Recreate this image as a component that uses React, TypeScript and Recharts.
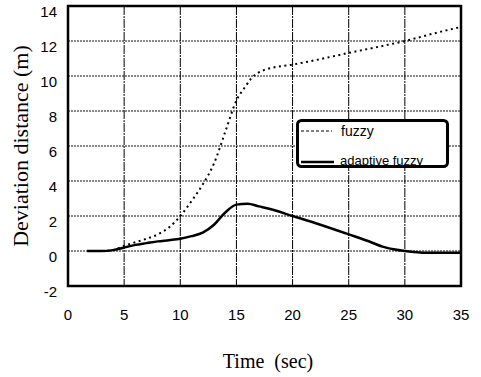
import {
  LineChart,
  Line,
  XAxis,
  YAxis,
  CartesianGrid,
  ReferenceArea,
  Legend,
  Label,
} from 'recharts';

// time (sec) / deviation (m) for the plain fuzzy controller
const fuzzyTime = [3, 4, 5, 6, 7, 8, 9, 10, 11, 12, 13, 14, 15, 15.8, 16.3, 17.5, 20, 22, 25, 27.5, 30, 33, 35];
const fuzzyDev = [0, 0.05, 0.3, 0.5, 0.7, 0.95, 1.35, 2.0, 2.85, 3.8, 5.0, 6.8, 8.6, 9.4, 9.85, 10.35, 10.65, 10.9, 11.32, 11.65, 12.0, 12.5, 12.8];

// same run with the adaptive fuzzy controller
const adaptiveTime = [1.7, 3, 4, 5, 6, 7, 8, 9, 10, 11, 12, 13, 14, 15, 16, 17, 18, 20, 22, 25, 27, 28, 29, 30, 32, 35];
const adaptiveDev = [0, 0, 0.05, 0.2, 0.35, 0.45, 0.55, 0.62, 0.7, 0.85, 1.05, 1.5, 2.2, 2.65, 2.7, 2.55, 2.4, 2.0, 1.6, 0.95, 0.5, 0.25, 0.1, 0, -0.1, -0.1];

const xTicks = [0, 5, 10, 15, 20, 25, 30, 35];
const yTicks = [-2, 0, 2, 4, 6, 8, 10, 12, 14];

const fuzzyData = fuzzyTime.map((t, i) => ({ t, dev: fuzzyDev[i] }));
const adaptiveData = adaptiveTime.map((t, i) => ({ t, dev: adaptiveDev[i] }));

const SANS = '"Liberation Sans", Arial, sans-serif';
const SERIF = '"Liberation Serif", "Times New Roman", serif';

const XTick = ({ x, y, payload }: any) => (
  <text x={x} y={y + 34} textAnchor="middle" fontSize={15} fontFamily={SANS} fill="#000">
    {payload.value}
  </text>
);

const YTick = ({ x, y, payload }: any) => (
  <text x={x} y={y + 6} dy="0.36em" textAnchor="end" fontSize={15} fontFamily={SANS} fill="#000">
    {payload.value}
  </text>
);

const LegendBox = () => (
  <svg width={153} height={49} style={{ display: 'block' }}>
    <rect x={1.5} y={1.5} width={150} height={46} rx={4} fill="#fff" stroke="#000" strokeWidth={3} />
    <line x1={5} y1={12} x2={36} y2={12} stroke="#000" strokeWidth={1.2} strokeDasharray="3 2" />
    <text x={45} y={17} fontSize={14} fontFamily={SANS} fill="#000">fuzzy</text>
    <line x1={5} y1={43} x2={38} y2={43} stroke="#000" strokeWidth={2.5} />
    <text x={44} y={46} fontSize={13} fontFamily={SANS} fill="#000">adaptive fuzzy</text>
  </svg>
);

export default function App() {
  return (
    <div style={{ position: 'absolute', left: 0, top: 0, background: '#fff' }}>
      <LineChart width={481} height={377} margin={{ top: 6, right: 20, bottom: 31, left: 28 }}>
        <CartesianGrid vertical={false} stroke="#111" strokeDasharray="2 1" />
        <CartesianGrid horizontal={false} stroke="#000" strokeDasharray="9 1 2 1" />
        <XAxis
          type="number"
          dataKey="t"
          domain={[0, 35]}
          ticks={xTicks}
          axisLine={false}
          tickLine={false}
          tickSize={0}
          tickMargin={0}
          height={60}
          tick={<XTick />}
          interval={0}
        >
          <Label
            content={() => (
              <text x={268} y={368} textAnchor="middle" fontSize={20} fontFamily={SERIF} fill="#000" style={{ wordSpacing: 5 }}>
                Time (sec)
              </text>
            )}
          />
        </XAxis>
        <YAxis
          type="number"
          domain={[-2, 14]}
          ticks={yTicks}
          axisLine={false}
          tickLine={false}
          tickSize={0}
          tickMargin={11}
          width={40}
          tick={<YTick />}
          interval={0}
        >
          <Label
            content={() => (
              <text
                x={28}
                y={146}
                transform="rotate(-90 28 146)"
                textAnchor="middle"
                fontSize={22}
                fontFamily={SERIF}
                fill="#000"
              >
                Deviation distance (m)
              </text>
            )}
          />
        </YAxis>
        <ReferenceArea x1={0} x2={35} y1={-2} y2={14} fill="none" stroke="#000" strokeWidth={2.5} ifOverflow="visible" />
        <Line
          data={fuzzyData}
          dataKey="dev"
          type="monotone"
          stroke="#000"
          strokeWidth={2}
          strokeDasharray="2 3.5"
          dot={false}
          isAnimationActive={false}
        />
        <Line
          data={adaptiveData}
          dataKey="dev"
          type="monotone"
          stroke="#000"
          strokeWidth={2.5}
          dot={false}
          isAnimationActive={false}
        />
        <Legend
          layout="horizontal"
          verticalAlign="middle"
          align="center"
          content={() => <LegendBox />}
          wrapperStyle={{ position: 'absolute', left: 296, top: 119, width: 153, height: 49 }}
        />
      </LineChart>
    </div>
  );
}
